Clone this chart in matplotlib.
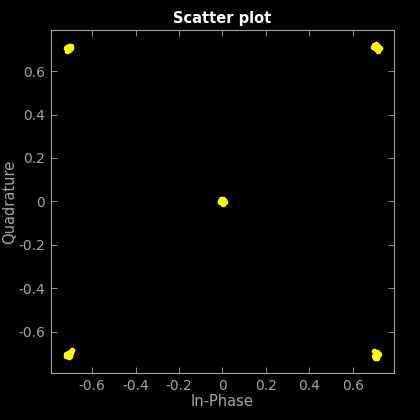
import matplotlib
matplotlib.use("Agg")
import matplotlib.pyplot as plt

# received symbols (five clusters)
in_phase = [
    -0.717, -0.705, -0.699, -0.713, -0.708, -0.720, -0.701, -0.710, -0.696, -0.714,
    0.699, 0.706, 0.694, 0.712, 0.719, 0.724, 0.708, 0.715, 0.702, 0.717,
    -0.009, 0.002, 0.007, 0.011, -0.004, 0.004, -0.011, 0.000, 0.009, -0.006,
    -0.716, -0.708, -0.700, -0.719, -0.705, -0.696, -0.698, -0.694, -0.712, -0.721,
    0.700, 0.705, 0.713, 0.717, 0.708, 0.698, 0.714, 0.719, 0.703, 0.710,
]
quadrature = [
    0.713, 0.716, 0.708, 0.702, 0.697, 0.705, 0.700, 0.709, 0.714, 0.694,
    0.719, 0.724, 0.712, 0.710, 0.703, 0.708, 0.700, 0.693, 0.706, 0.714,
    0.004, 0.013, 0.008, -0.002, -0.009, -0.011, -0.003, 0.002, 0.000, 0.010,
    -0.711, -0.716, -0.713, -0.703, -0.705, -0.700, -0.690, -0.683, -0.698, -0.713,
    -0.688, -0.705, -0.700, -0.708, -0.715, -0.712, -0.719, -0.702, -0.721, -0.695,
]
ticks = [-0.6, -0.4, -0.2, 0, 0.2, 0.4, 0.6]
tick_labels = ['-0.6', '-0.4', '-0.2', '0', '0.2', '0.4', '0.6']

fig = plt.figure(figsize=(4.2, 4.2), dpi=100, facecolor='black')
ax = fig.add_axes([0.121, 0.112, 0.817, 0.817], facecolor='black')

ax.plot(in_phase, quadrature, '.', color='yellow', markersize=6)

ax.set_xlim(-0.79, 0.79)
ax.set_ylim(-0.79, 0.79)
ax.set_xticks(ticks)
ax.set_xticklabels(tick_labels)
ax.set_yticks(ticks)
ax.set_yticklabels(tick_labels)

grey = '#a6a6a6'
for s in ax.spines.values():
    s.set_color(grey)
    s.set_linewidth(0.8)
ax.tick_params(direction='in', length=4, colors=grey, labelsize=10,
               top=True, right=True, width=0.6, pad=4)

ax.set_title('Scatter plot', color='white', fontsize=10.5, fontweight='bold', pad=5)
ax.set_xlabel('In-Phase', color=grey, fontsize=10.5, labelpad=1)
ax.set_ylabel('Quadrature', color=grey, fontsize=10.5, labelpad=1)

fig.savefig('out.png', dpi=100, facecolor='black')
